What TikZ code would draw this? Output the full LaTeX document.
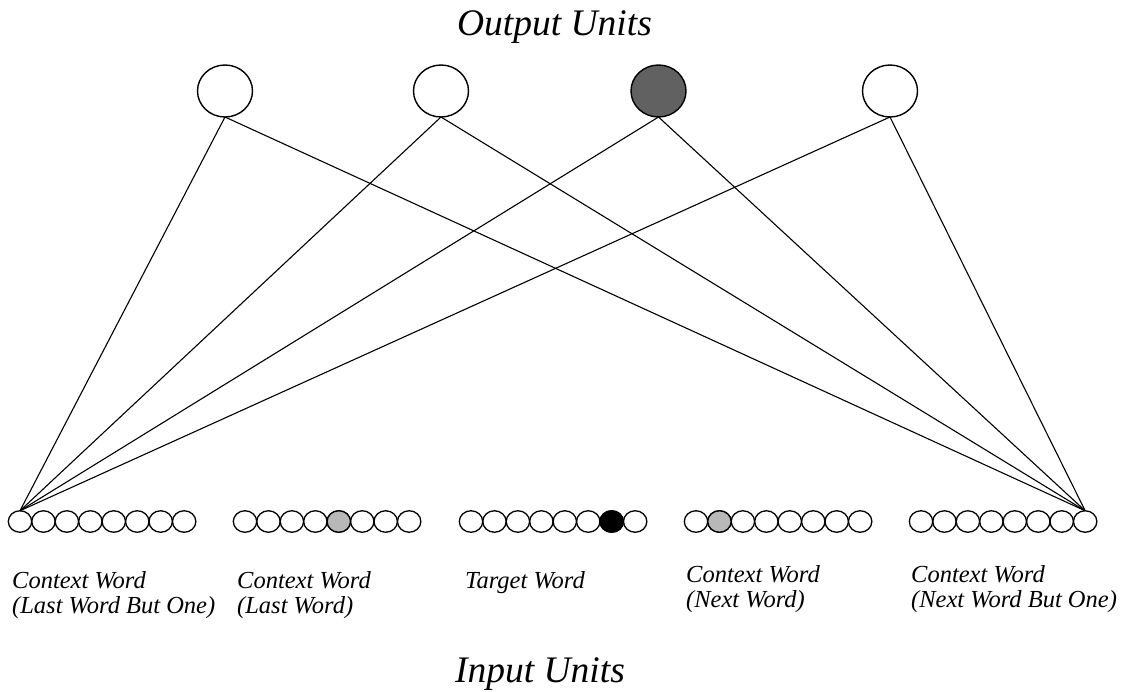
\documentclass[tikz,border=0pt]{standalone}
\usepackage{fontspec}
\setmainfont{Liberation Serif}
\usetikzlibrary{shapes.geometric}
\tikzset{
  outunit/.style={ellipse, draw, line width=1.4pt, inner sep=0pt, outer sep=0pt,
                  minimum width=55pt, minimum height=52pt},
  inunit/.style={ellipse, draw, line width=1.3pt, inner sep=0pt, outer sep=0pt,
                 minimum width=23.4pt, minimum height=21.5pt},
  weight/.style={line width=1.1pt},
  title/.style={font=\fontsize{37.5}{40}\selectfont\itshape, inner sep=0pt, anchor=base},
  wordlabel/.style={font=\fontsize{24.5}{25}\selectfont\itshape, inner sep=0pt, anchor=base west},
}
\begin{document}
\begin{tikzpicture}[x=1pt, y=-1pt]
\useasboundingbox (0,0) rectangle (1129,691);

% titles
\node[title] (outtitle) at (554.5,35) {Output Units};
\node[title] (intitle) at (540,682) {Input Units};

% output layer
\node[outunit] (o1) at (225,91) {};
\node[outunit] (o2) at (441,91) {};
\node[outunit, fill=black!62] (o3) at (658.5,91) {};
\node[outunit] (o4) at (890,91) {};

% input layer: five word groups of eight units
\foreach \g/\x in {1/20, 2/245, 3/471, 4/696, 5/921} {
  \foreach \k in {1,...,8} {
    \node[inunit] (i-\g-\k) at ({\x+(\k-1)*23.45},521.5) {};
  }
}
% active input units
\node[inunit, fill=black!28] at (i-2-5) {};
\node[inunit, fill=black] at (i-3-7) {};
\node[inunit, fill=black!28] at (i-4-2) {};

% connections
\foreach \o in {o1,o2,o3,o4} {
  \draw[weight] (\o.south) -- (i-1-1.north);
  \draw[weight] (\o.south) -- (i-5-8.north);
}

% group labels
\node[wordlabel] (l1a) at (12,588) {Context Word};
\node[wordlabel] (l1b) at (12,613) {(Last Word But One)};
\node[wordlabel] (l2a) at (237,588) {Context Word};
\node[wordlabel] (l2b) at (237,613) {(Last Word)};
\node[wordlabel] (l3a) at (465,588) {Target Word};
\node[wordlabel] (l4a) at (686,582) {Context Word};
\node[wordlabel] (l4b) at (686,607) {(Next Word)};
\node[wordlabel] (l5a) at (911,582) {Context Word};
\node[wordlabel] (l5b) at (911,607) {(Next Word But One)};
\end{tikzpicture}
\end{document}
